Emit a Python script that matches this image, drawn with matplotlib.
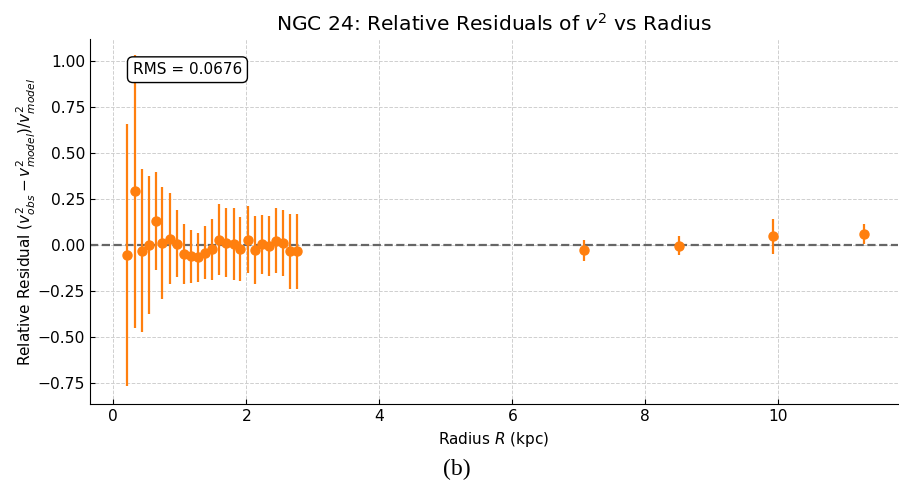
import matplotlib
matplotlib.use("Agg")
import matplotlib.pyplot as plt

radius = [0.21, 0.32, 0.43, 0.54, 0.64, 0.74, 0.85, 0.96, 1.07, 1.17, 1.28, 1.38,
          1.48, 1.59, 1.70, 1.81, 1.91, 2.02, 2.13, 2.24, 2.34, 2.45, 2.55, 2.65, 2.76,
          7.07, 8.50, 9.92, 11.28]
residual = [-0.055, 0.294, -0.029, 0.000, 0.132, 0.013, 0.035, 0.009, -0.049, -0.060,
            -0.065, -0.041, -0.023, 0.030, 0.013, 0.007, -0.018, 0.030, -0.027, 0.004,
            -0.005, 0.025, 0.013, -0.033, -0.033,
            -0.027, -0.002, 0.049, 0.060]
error = [0.713, 0.742, 0.442, 0.375, 0.268, 0.306, 0.247, 0.180, 0.162, 0.145,
         0.133, 0.145, 0.166, 0.193, 0.188, 0.195, 0.174, 0.181, 0.186, 0.159,
         0.163, 0.177, 0.180, 0.205, 0.204,
         0.058, 0.050, 0.096, 0.055]
rms_text = "RMS = 0.0676"

fig = plt.figure(figsize=(8.99, 4.84), dpi=100)
ax = fig.add_axes([0.1001, 0.165, 0.8989, 0.754])

ax.errorbar(radius, residual, yerr=error, fmt='o', color='#ff7f0e',
            ecolor='#ff7f0e', elinewidth=1.6, markersize=6.5, capsize=0, zorder=3)
ax.axhline(0, color='#666666', linestyle='--', linewidth=1.6, zorder=2)

ax.set_xlim(-0.35, 11.8)
ax.set_ylim(-0.864, 1.12)
ax.set_xticks([0, 2, 4, 6, 8, 10])
ax.set_yticks([-0.75, -0.5, -0.25, 0.0, 0.25, 0.5, 0.75, 1.0])
ax.grid(True, linestyle='--', color='#cfcfcf', linewidth=0.7, zorder=0)
ax.set_axisbelow(True)
ax.spines['top'].set_visible(False)
ax.spines['right'].set_visible(False)
ax.tick_params(labelsize=11.2, direction='in', length=3.5)

ax.set_title(r"NGC 24: Relative Residuals of $v^2$ vs Radius", fontsize=14.6)
ax.set_xlabel(r"Radius $R$ (kpc)", fontsize=11)
ax.set_ylabel(r"Relative Residual $(v^2_{obs} - v^2_{model})/v^2_{model}$", fontsize=11,
              labelpad=0)

ax.text(0.053, 0.937, rms_text, transform=ax.transAxes, fontsize=11,
        va='top', ha='left',
        bbox=dict(boxstyle='round,pad=0.35', facecolor='white', edgecolor='black'))

fig.text(0.508, 0.031, "(b)", fontsize=17, family='Liberation Serif', ha='center', va='center')

fig.savefig("out.png", dpi=100)
